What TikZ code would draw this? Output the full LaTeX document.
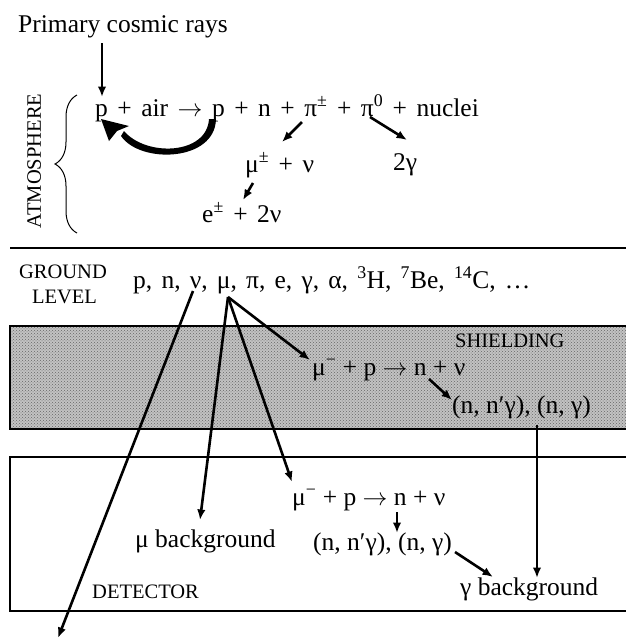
\documentclass[tikz,border=0pt]{standalone}
\usepackage{fontspec}
\setmainfont{Liberation Serif}
\usetikzlibrary{arrows.meta,patterns,decorations.pathreplacing}
\newcommand{\rarr}{\ensuremath{\rightarrow}}
\newcommand{\widesp}{\spaceskip 9.5pt\relax}
\newcommand{\widersp}{\spaceskip 9.2pt\relax}
\begin{document}
\begin{tikzpicture}[x=1pt,y=-1pt,
  txt/.style={inner sep=0pt, anchor=base west, font=\fontsize{25.5}{28}\selectfont},
  wide/.style={txt, font=\fontsize{25.5}{28}\selectfont\widesp},
  wider/.style={txt, font=\fontsize{25.5}{28}\selectfont\widersp},
  lbl/.style={inner sep=0pt, anchor=base west, font=\fontsize{20.5}{22}\selectfont},
  arr/.style={line width=2.6pt, -{Latex[length=10.5pt,width=8.5pt]}},
  boxline/.style={line width=1.2pt},
]
\useasboundingbox (0,0) rectangle (625,641);

% boxes
\fill[black!24] (10,326) rectangle (640,429);
\fill[pattern=crosshatch dots, pattern color=black!60] (10,326) rectangle (640,429);
\draw[boxline] (10,326) rectangle (640,429);
\draw[boxline] (10,457) rectangle (640,611);
\draw[line width=1.8pt] (10,248) -- (640,248);

% atmosphere
\node[txt] (pcr) at (18,32) {Primary cosmic rays};
\node[wide] (main) at (95,116) {p + air \rarr{} p + n + π\textsuperscript{±} + π\textsuperscript{0} + nuclei};
\node[wide] (mupm) at (245,172) {μ\textsuperscript{±} + ν};
\node[wide] (twog) at (393,170) {2γ};
\node[wide] (epm) at (202,222) {e\textsuperscript{±} + 2ν};
\node[lbl, rotate=90, anchor=base] (atm) at (41,161) {ATMOSPHERE};
\draw[line width=1pt, decorate, decoration={brace, amplitude=22pt}] (77,233) -- (77,95);

\coordinate (pcrS) at (102,43);
\coordinate (pcrE) at (102,97);
\coordinate (pipm) at (302,122);
\coordinate (mutop) at (282,142);
\coordinate (mub) at (253,183);
\coordinate (etop) at (243,200);
\coordinate (pi0) at (370,117);
\coordinate (gtop) at (407,140);
\draw[arr] (pcrS) -- (pcrE);
\draw[arr] (pipm) -- (mutop);
\draw[arr] (mub) -- (etop);
\draw[arr] (pi0) -- (gtop);

% curved thick arrow
\fill (216,119) .. controls (215,162) and (140,164) .. (121,136)
  -- (124,131) .. controls (146,157) and (207,155) .. (209,119) -- cycle;
\fill (101,119) -- (109,141) -- (117,131) -- (129,126) -- cycle;

% ground level
\node[lbl, anchor=base] (gr1) at (63,278) {GROUND};
\node[lbl, anchor=base] (gr2) at (64.5,303) {LEVEL};
\node[wider] (gl) at (133,288) {p, n, ν, μ, π, e, γ, α, \textsuperscript{3}H, \textsuperscript{7}Be, \textsuperscript{14}C, …};

% shielding
\node[lbl] (sh) at (455,347) {SHIELDING};
\node[txt] (shr) at (312,375) {μ\textsuperscript{−} + p \rarr{} n + ν};
\node[txt] (shn) at (452,413) {(n, n′γ), (n, γ)};

% detector
\node[txt] (der) at (292,505) {μ\textsuperscript{−} + p \rarr{} n + ν};
\node[txt] (den) at (313,550) {(n, n′γ), (n, γ)};
\node[txt] (mubg) at (135,547) {μ background};
\node[lbl] (det) at (92,598) {DETECTOR};
\node[txt] (gbg) at (460,595) {γ background};

\coordinate (nu) at (193,291);
\coordinate (nuE) at (58,638);
\coordinate (mu) at (228,297);
\coordinate (mubgT) at (200,520);
\coordinate (derT) at (292,482);
\coordinate (shrT) at (310,360);
\coordinate (shnS) at (429,379);
\coordinate (shnT) at (452,400);
\coordinate (shgS) at (537,425);
\coordinate (gbgT) at (537,578);
\coordinate (denS) at (397,512);
\coordinate (denT) at (397,533);
\coordinate (dgS) at (455,552);
\coordinate (dgT) at (493,577);

\draw[arr] (nu) -- (nuE);
\draw[arr] (mu) -- (mubgT);
\draw[arr] (mu) -- (derT);
\draw[arr] (mu) -- (shrT);
\draw[arr] (shnS) -- (shnT);
\draw[arr] (shgS) -- (gbgT);
\draw[arr] (denS) -- (denT);
\draw[arr] (dgS) -- (dgT);
\end{tikzpicture}
\end{document}
